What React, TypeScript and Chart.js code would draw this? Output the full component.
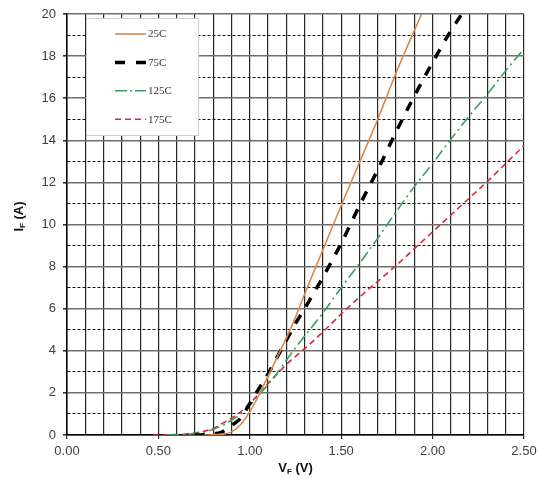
import React, { useEffect, useRef } from 'react';
import { Chart, registerables } from 'chart.js';

Chart.register(...registerables);

// ---- data ----
const SERIES_LABELS = ['25C', '75C', '125C', '175C'];

const VF_25C = [0.75, 0.8, 0.85, 0.9, 0.95, 1.0, 1.05, 1.1, 1.15, 1.2, 1.25, 1.3, 1.4, 1.5, 1.6, 1.7, 1.8, 1.94];
const IF_25C = [0, 0.01, 0.04, 0.15, 0.5, 1.1, 1.9, 2.8, 3.7, 4.6, 5.6, 6.7, 8.8, 10.9, 12.95, 15.0, 17.2, 20];

const VF_75C = [0.7, 0.75, 0.8, 0.85, 0.9, 0.95, 1.0, 1.05, 1.1, 1.15, 1.2, 1.25, 1.3, 1.35, 1.4, 1.5, 1.6, 1.7, 1.8, 1.9, 2.0, 2.1, 2.16];
const IF_75C = [0, 0.01, 0.05, 0.15, 0.45, 0.8, 1.5, 2.2, 2.9, 3.7, 4.5, 5.3, 6.0, 6.75, 7.5, 9.1, 10.9, 12.6, 14.4, 16.1, 17.7, 19.2, 20];

const VF_125C = [0.55, 0.65, 0.75, 0.8, 0.85, 0.9, 0.95, 1.0, 1.05, 1.1, 1.15, 1.2, 1.25, 1.3, 1.4, 1.5, 1.6, 1.7, 1.8, 1.9, 2.0, 2.1, 2.2, 2.3, 2.4, 2.5];
const IF_125C = [0, 0.03, 0.14, 0.27, 0.45, 0.7, 1.0, 1.4, 1.9, 2.4, 2.95, 3.55, 4.15, 4.7, 5.8, 7.0, 8.15, 9.35, 10.6, 11.8, 12.9, 14.05, 15.15, 16.2, 17.3, 18.35];

const VF_175C = [0.47, 0.55, 0.65, 0.75, 0.8, 0.85, 0.9, 0.95, 1.0, 1.05, 1.1, 1.15, 1.2, 1.3, 1.4, 1.5, 1.6, 1.7, 1.8, 1.9, 2.0, 2.1, 2.2, 2.3, 2.4, 2.5];
const IF_175C = [0, 0.01, 0.05, 0.18, 0.32, 0.55, 0.8, 1.1, 1.5, 1.95, 2.45, 2.9, 3.35, 4.1, 4.9, 5.75, 6.55, 7.3, 8.05, 8.85, 9.65, 10.45, 11.25, 12.05, 12.9, 13.75];

const X_MIN = 0;
const X_MAX = 2.5;
const X_STEP = 0.1;
const X_LABEL_EVERY = 0.5;
const Y_MIN = 0;
const Y_MAX = 20;
const Y_STEP = 1;
const Y_LABEL_EVERY = 2;

const X_TITLE = ['V', 'F', ' (V)'];
const Y_TITLE = ['I', 'F', ' (A)'];

const toPoints = (xs: number[], ys: number[]) => xs.map((x, i) => ({ x, y: ys[i] }));

const isMultiple = (v: number, m: number) => Math.abs(v / m - Math.round(v / m)) < 1e-6;

function drawSubTitle(ctx: CanvasRenderingContext2D, parts: string[], cx: number, cy: number, rotate: boolean) {
  const mainFont = 'bold 13px "Liberation Sans", Arial, sans-serif';
  const subFont = 'bold 8px "Liberation Sans", Arial, sans-serif';
  ctx.save();
  ctx.translate(cx, cy);
  if (rotate) ctx.rotate(-Math.PI / 2);
  ctx.font = mainFont;
  const w0 = ctx.measureText(parts[0]).width;
  const w2 = ctx.measureText(parts[2]).width;
  ctx.font = subFont;
  const w1 = ctx.measureText(parts[1]).width;
  const total = w0 + w1 + w2;
  let x = -total / 2;
  ctx.fillStyle = '#111';
  ctx.textBaseline = 'middle';
  ctx.textAlign = 'left';
  ctx.font = mainFont;
  ctx.fillText(parts[0], x, 0);
  x += w0;
  ctx.font = subFont;
  ctx.fillText(parts[1], x, 4);
  x += w1;
  ctx.font = mainFont;
  ctx.fillText(parts[2], x, 0);
  ctx.restore();
}

const overlayPlugin = {
  id: 'overlay',
  afterDraw(chart: any) {
    const { ctx, chartArea } = chart;
    // legend box inside plot area
    const bx = chartArea.left + 19;
    const by = chartArea.top + 4;
    const bw = 112;
    const bh = 117;
    ctx.save();
    ctx.fillStyle = '#ffffff';
    ctx.fillRect(bx, by, bw, bh);
    ctx.strokeStyle = '#cfcfcf';
    ctx.lineWidth = 1;
    ctx.strokeRect(bx + 0.5, by + 0.5, bw, bh);
    chart.data.datasets.forEach((ds: any, i: number) => {
      const y = by + 16 + i * 28.4;
      ctx.beginPath();
      ctx.setLineDash(ds.legendDash || []);
      ctx.lineWidth = ds.borderWidth;
      ctx.strokeStyle = ds.borderColor;
      ctx.lineCap = 'butt';
      ctx.moveTo(bx + 29, y);
      ctx.lineTo(bx + 60, y);
      ctx.stroke();
      ctx.setLineDash([]);
      ctx.fillStyle = '#333';
      ctx.font = '11px "Liberation Serif", "Times New Roman", serif';
      ctx.textBaseline = 'middle';
      ctx.textAlign = 'left';
      ctx.fillText(ds.label, bx + 62, y + 0.5);
    });
    ctx.restore();

    // axis titles with subscripts
    drawSubTitle(ctx, X_TITLE, (chartArea.left + chartArea.right) / 2, chartArea.bottom + 33, false);
    drawSubTitle(ctx, Y_TITLE, 19, (chartArea.top + chartArea.bottom) / 2 - 8, true);
  },
};

export default function App() {
  const canvasRef = useRef<HTMLCanvasElement | null>(null);

  useEffect(() => {
    if (!canvasRef.current) return;
    const tickFont = { family: '"Liberation Sans", Arial, sans-serif', size: 13 };
    const chart = new Chart(canvasRef.current, {
      type: 'line',
      data: {
        datasets: [
          {
            label: SERIES_LABELS[0],
            data: toPoints(VF_25C, IF_25C),
            borderColor: '#D9884F',
            borderWidth: 1.6,
            borderDash: [],
            legendDash: [],
            pointRadius: 0,
            cubicInterpolationMode: 'monotone',
            fill: false,
          } as any,
          {
            label: SERIES_LABELS[1],
            data: toPoints(VF_75C, IF_75C),
            borderColor: '#000000',
            borderWidth: 3.5,
            borderDash: [10, 10],
            legendDash: [10, 11],
            pointRadius: 0,
            cubicInterpolationMode: 'monotone',
            fill: false,
          } as any,
          {
            label: SERIES_LABELS[2],
            data: toPoints(VF_125C, IF_125C),
            borderColor: '#3A9E63',
            borderWidth: 1.6,
            borderDash: [11, 4, 2, 4],
            legendDash: [12, 3, 2, 3],
            pointRadius: 0,
            cubicInterpolationMode: 'monotone',
            fill: false,
          } as any,
          {
            label: SERIES_LABELS[3],
            data: toPoints(VF_175C, IF_175C),
            borderColor: '#D9283A',
            borderWidth: 1.6,
            borderDash: [6, 4],
            legendDash: [6, 4],
            pointRadius: 0,
            cubicInterpolationMode: 'monotone',
            fill: false,
          } as any,
        ],
      },
      options: {
        responsive: false,
        animation: false,
        devicePixelRatio: 1,
        layout: { padding: { left: 0, right: 14, top: 14, bottom: 0 } },
        plugins: {
          legend: { display: false },
          tooltip: { enabled: false },
        },
        scales: {
          x: {
            type: 'linear',
            min: X_MIN,
            max: X_MAX,
            ticks: {
              stepSize: X_STEP,
              autoSkip: false,
              maxRotation: 0,
              minRotation: 0,
              padding: 5,
              color: '#404040',
              font: tickFont,
              callback: (v: any) => (isMultiple(Number(v), X_LABEL_EVERY) ? Number(v).toFixed(2) : ''),
            },
            grid: {
              color: '#262626',
              lineWidth: 1.2,
              tickLength: 4,
              tickColor: (c: any) => (c.tick && isMultiple(c.tick.value, X_LABEL_EVERY) ? '#262626' : 'rgba(0,0,0,0)'),
            },
            border: { color: '#000', width: 1.5 },
            afterFit: (s: any) => {
              s.height = 47;
              s.paddingLeft = 0;
              s.paddingRight = 0;
            },
          },
          y: {
            type: 'linear',
            min: Y_MIN,
            max: Y_MAX,
            ticks: {
              stepSize: Y_STEP,
              autoSkip: false,
              padding: 7,
              color: '#404040',
              font: tickFont,
              callback: (v: any) => (isMultiple(Number(v), Y_LABEL_EVERY) ? String(v) : ''),
            },
            grid: {
              color: (c: any) => (c.tick && isMultiple(c.tick.value, Y_LABEL_EVERY) ? '#6e6e6e' : '#111'),
              lineWidth: (c: any) => (c.tick && isMultiple(c.tick.value, Y_LABEL_EVERY) ? 1.6 : 1),
              tickLength: 4,
              tickColor: (c: any) => (c.tick && isMultiple(c.tick.value, Y_LABEL_EVERY) ? '#333' : 'rgba(0,0,0,0)'),
            },
            border: {
              color: '#000',
              width: 1.5,
              dash: (c: any) => (c.tick && !isMultiple(c.tick.value, Y_LABEL_EVERY) ? [3, 2] : []),
            },
            afterFit: (s: any) => {
              s.width = 67;
              s.paddingTop = 0;
              s.paddingBottom = 0;
            },
          },
        },
      } as any,
      plugins: [overlayPlugin],
    });
    return () => chart.destroy();
  }, []);

  return (
    <div style={{ position: 'fixed', left: 0, top: 0, width: 538, height: 482, background: '#fff' }}>
      <canvas ref={canvasRef} width={538} height={482} style={{ display: 'block', width: 538, height: 482 }} />
    </div>
  );
}
